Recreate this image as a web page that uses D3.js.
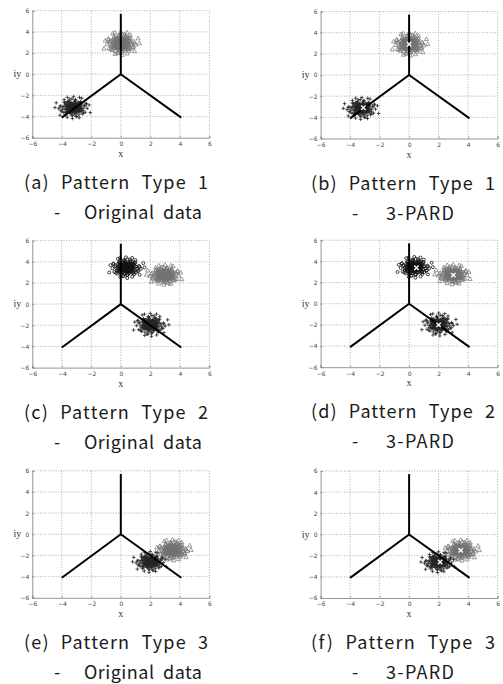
<!DOCTYPE html>
<html>
<head>
<meta charset="utf-8">
<script src="https://cdn.jsdelivr.net/npm/d3@7.9.0/dist/d3.min.js"></script>
<style>
  body { margin: 0; background: #fff; }
  svg { display: block; }
</style>
</head>
<body>
<svg id="chart" width="503" height="684"></svg>
<script>
// axis ticks shared by every panel
const ticks = [-6, -4, -2, 0, 2, 4, 6];

// the three decision boundaries leave the origin towards these ends
const boundaryEnds = [[0, 5.7], [-4, -4.1], [4.1, -4.1]];

// captions
const captionTop = ["(a) Pattern Type 1", "(b) Pattern Type 1", "(c) Pattern Type 2",
                    "(d) Pattern Type 2", "(e) Pattern Type 3", "(f) Pattern Type 3"];
const captionSub = ["Original data", "3-PARD", "Original data",
                    "3-PARD", "Original data", "3-PARD"];

// hand-read scatter of one cluster, in units of its spread
const spread = [
  [0.1,0.2],[-0.3,0.5],[0.6,-0.2],[-0.8,-0.4],[0.2,-0.9],[1.1,0.3],[-1.2,0.1],[0.4,1.0],[-0.5,-1.1],[0.9,0.8],
  [-0.9,0.9],[0.0,-0.3],[0.3,0.1],[-0.1,-0.6],[0.7,0.4],[-0.6,0.2],[1.4,-0.5],[-1.5,-0.7],[0.5,-1.4],[-0.2,1.5],
  [0.8,-0.9],[-1.0,-1.0],[1.2,1.1],[-1.3,0.8],[0.2,0.7],[-0.4,-0.2],[0.9,-0.1],[-0.7,-0.8],[0.1,-1.2],[-0.1,1.1],
  [1.7,0.2],[-1.8,0.3],[0.3,-1.8],[-0.3,1.8],[1.5,1.3],[-1.4,-1.5],[1.6,-1.2],[-1.1,1.4],[0.6,0.6],[-0.5,0.7],
  [0.4,-0.5],[-0.2,0.0],[0.0,0.4],[0.5,0.0],[-0.6,-0.5],[1.0,-0.6],[-0.9,-0.2],[0.7,1.3],[-0.8,1.2],[0.2,-0.4],
  [2.1,0.4],[-2.2,-0.2],[0.6,2.0],[-0.4,-2.1],[1.9,-0.9],[-2.0,1.0],[1.3,-1.7],[-1.6,-1.3],[2.4,-0.3],[-2.5,0.6],
  [0.3,0.9],[-0.3,-0.9],[1.1,-0.3],[-1.1,0.4],[0.8,0.1],[-0.7,0.5],[0.1,0.6],[-0.2,-1.4],[1.3,0.7],[-1.2,-0.6],
  [0.0,0.0],[0.4,0.3],[-0.4,0.3],[0.3,-0.3],[-0.3,-0.3],[0.9,0.5],[-1.0,-0.3],[0.5,-0.8],[-0.1,0.9],[1.2,-1.0],
  [2.8,1.1],[-2.7,-1.2],[1.0,2.4],[-1.3,2.2],[2.2,-1.8],[-0.9,-2.4],[3.0,0.0],[0.2,-2.6]
];

// clusters per pattern type: marker, centre x, centre y, spread x, spread y, mirror
const pattern1 = [
  ["tri",  0.0,  2.9, 0.42, 0.42,  1],
  ["plus", -3.2, -3.15, 0.42, 0.40, -1]
];
const pattern2 = [
  ["circ", 0.35,  3.45, 0.42, 0.38,  1],
  ["tri",  3.0,  2.75, 0.42, 0.36, -1],
  ["plus", 2.0, -1.95, 0.42, 0.42,  1]
];
const pattern3 = [
  ["tri",  3.5, -1.5, 0.42, 0.38,  1],
  ["plus", 2.0, -2.6, 0.40, 0.38, -1]
];

// estimated centres marked by 3-PARD
const centres1 = [[0.0, 2.9], [-3.1, -3.1]];
const centres2 = [[0.5, 3.4], [3.0, 2.7], [2.0, -2.0]];
const centres3 = [[3.5, -1.5], [2.1, -2.6]];

const panels = [
  { x0: 32.3,  y0: 10.7, clusters: pattern1, centres: null },
  { x0: 320.6, y0: 11.5, clusters: pattern1, centres: centres1 },
  { x0: 32.3,  y0: 240.6, clusters: pattern2, centres: null },
  { x0: 320.6, y0: 240.2, clusters: pattern2, centres: centres2 },
  { x0: 32.3,  y0: 470.8, clusters: pattern3, centres: null },
  { x0: 320.6, y0: 471.0, clusters: pattern3, centres: centres3 }
];
const pw = 177, ph = 127;

const svg = d3.select("#chart");
const dotted = sel => sel.attr("stroke", "#9a9a9a").attr("stroke-width", 0.8).attr("stroke-dasharray", "1,1.6");

panels.forEach((p, i) => {
  const g = svg.append("g").attr("transform", `translate(${p.x0},${p.y0})`);
  const x = d3.scaleLinear().domain([-6, 6]).range([0, pw]);
  const y = d3.scaleLinear().domain([-6, 6]).range([ph, 0]);

  // grid
  g.append("g").selectAll("line").data(ticks.slice(1, -1)).join("line")
    .attr("x1", d => x(d)).attr("x2", d => x(d)).attr("y1", 0).attr("y2", ph).call(dotted);
  g.append("g").selectAll("line").data(ticks.slice(1, -1)).join("line")
    .attr("y1", d => y(d)).attr("y2", d => y(d)).attr("x1", 0).attr("x2", pw).call(dotted);

  // frame
  g.append("line").attr("x1", 0).attr("x2", pw).attr("y1", 0).attr("y2", 0).call(dotted);
  g.append("line").attr("x1", pw).attr("x2", pw).attr("y1", 0).attr("y2", ph).call(dotted);

  // axes
  const ax = g.append("g").attr("transform", `translate(0,${ph})`)
    .call(d3.axisBottom(x).tickValues(ticks).tickSize(-2).tickPadding(3).tickFormat(d3.format("d")));
  const ay = g.append("g")
    .call(d3.axisLeft(y).tickValues(ticks).tickSize(-2).tickPadding(3).tickFormat(d3.format("d")));
  [ax, ay].forEach(a => {
    a.select(".domain").attr("stroke", "#888").attr("stroke-width", 0.9);
    a.selectAll(".tick line").attr("stroke", "#777").attr("stroke-width", 0.6);
    a.selectAll(".tick text").attr("font-family", "DejaVu Sans, sans-serif")
      .attr("font-size", 6).attr("fill", "#444");
  });
  ax.selectAll(".tick text").attr("dy", "0.9em");

  g.append("text").attr("x", x(0)).attr("y", ph + 19)
    .attr("text-anchor", "middle").attr("font-family", "Liberation Serif, serif")
    .attr("font-size", 10).attr("fill", "#333").text("x");
  g.append("text").attr("x", -11).attr("y", y(0) + 3)
    .attr("text-anchor", "end").attr("font-family", "Liberation Serif, serif")
    .attr("font-size", 10).attr("fill", "#333").text("iy");

  // scatter: the read offsets, plus the same offsets read across
  p.clusters.forEach(([mark, cx, cy, sx, sy, m]) => {
    const pts = spread.map(([a, b]) => [cx + a * sx * m, cy + b * sy])
      .concat(spread.map(([a, b]) => [cx - b * sx * 0.85 * m, cy + a * sy * 0.85]));
    const sg = g.append("g");
    if (mark === "tri") {
      sg.selectAll("path").data(pts).join("path")
        .attr("d", d3.symbol(d3.symbolTriangle, 8))
        .attr("transform", d => `translate(${x(d[0])},${y(d[1])})`)
        .attr("fill", "none").attr("stroke", "#727272").attr("stroke-width", 0.7);
    } else if (mark === "plus") {
      sg.selectAll("path").data(pts).join("path")
        .attr("d", "M-1.8,0H1.8M0,-1.8V1.8")
        .attr("transform", d => `translate(${x(d[0])},${y(d[1])})`)
        .attr("fill", "none").attr("stroke", "#262626").attr("stroke-width", 0.8);
    } else {
      sg.selectAll("circle").data(pts).join("circle")
        .attr("cx", d => x(d[0])).attr("cy", d => y(d[1])).attr("r", 1.5)
        .attr("fill", "none").attr("stroke", "#111").attr("stroke-width", 0.8);
    }
  });

  // boundaries
  g.append("g").selectAll("line").data(boundaryEnds).join("line")
    .attr("x1", x(0)).attr("y1", y(0))
    .attr("x2", d => x(d[0])).attr("y2", d => y(d[1]))
    .attr("stroke", "#000").attr("stroke-width", 2);

  // centres
  if (p.centres) {
    g.append("g").selectAll("path").data(p.centres).join("path")
      .attr("d", "M-2.2,-2.2L2.2,2.2M-2.2,2.2L2.2,-2.2")
      .attr("transform", d => `translate(${x(d[0])},${y(d[1])})`)
      .attr("stroke", "#fff").attr("stroke-width", 1.4);
  }

  // captions
  const left = i % 2 === 0;
  const cap = svg.append("g").attr("font-family", "Noto Sans CJK KR, Noto Sans, sans-serif")
    .attr("font-size", 18).attr("fill", "#1a1a1a");
  const yb = p.y0 + ph + 51;
  cap.append("text").attr("x", left ? 24 : 311).attr("y", yb)
    .attr("textLength", 184).attr("lengthAdjust", "spacing")
    .attr("word-spacing", 6).text(captionTop[i]);
  cap.append("text").attr("x", left ? 54 : 352).attr("y", yb + 30).text("-");
  cap.append("text").attr("x", left ? 84 : 386).attr("y", yb + 30)
    .attr("textLength", left ? 118 : 68).attr("lengthAdjust", "spacing")
    .attr("word-spacing", 4).text(captionSub[i]);
});
</script>
</body>
</html>
